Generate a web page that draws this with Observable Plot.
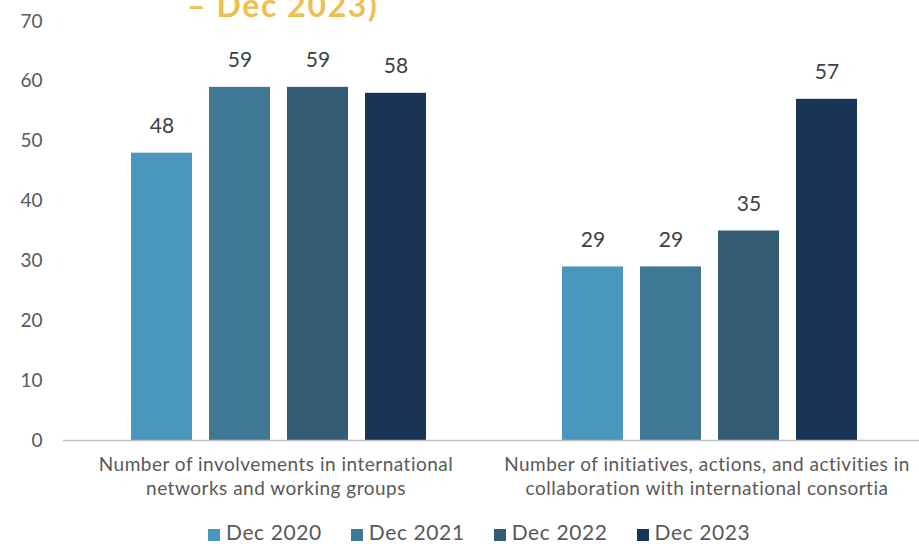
<!DOCTYPE html>
<html>
<head>
<meta charset="utf-8">
<script src="https://cdn.jsdelivr.net/npm/d3@7"></script>
<script src="https://cdn.jsdelivr.net/npm/@observablehq/plot@0.6"></script>
<style>
  html, body { margin: 0; padding: 0; background: #fff; width: 919px; height: 544px; overflow: hidden; }
  body { position: relative; font-family: Lato, "Noto Sans", sans-serif; }
  #title { position: absolute; left: 187px; top: -11px; z-index: 2; font-size: 32px; font-weight: 700; color: #EDC052; white-space: nowrap; letter-spacing: 1.6px; line-height: 1; }
  #chart { position: absolute; left: 0; top: 0; z-index: 1; }
  #legend { position: absolute; left: 208px; top: 519px; display: flex; gap: 29px; font-size: 21px; letter-spacing: 0.6px; color: #595959; }
  #legend .item { display: flex; align-items: flex-end; gap: 6px; }
  #legend .sw { width: 12px; height: 12px; margin-bottom: 3px; }
</style>
</head>
<body>
<div id="title">– Dec 2023)</div>
<div id="chart"></div>
<div id="legend"></div>
<script>
const categories = [
  "Number of involvements in international\nnetworks and working groups",
  "Number of initiatives, actions, and activities in\ncollaboration with international consortia"
];
const series = ["Dec 2020", "Dec 2021", "Dec 2022", "Dec 2023"];
const colors = ["#4A96BC", "#3F7895", "#355C75", "#1A3457"];
const valuesInvolvements = [48, 59, 59, 58];
const valuesInitiatives = [29, 29, 35, 57];
const yTicks = [0, 10, 20, 30, 40, 50, 60, 70];

const data = [];
series.forEach((s, i) => data.push({category: categories[0], series: s, value: valuesInvolvements[i]}));
series.forEach((s, i) => data.push({category: categories[1], series: s, value: valuesInitiatives[i]}));

const chart = Plot.plot({
  width: 925,
  height: 500,
  marginLeft: 62,
  marginRight: 0,
  marginTop: 21,
  marginBottom: 60,
  style: { fontFamily: "Lato, 'Noto Sans', sans-serif", color: "#404040", background: "white", maxWidth: "none" },
  fx: { domain: categories, padding: 0, label: null },
  x: { domain: series, paddingInner: 0.218, paddingOuter: 0.87, axis: null },
  y: { domain: [0, 70], ticks: yTicks, label: null },
  color: { domain: series, range: colors },
  marks: [
    Plot.axisY({ ticks: yTicks, tickSize: 0, tickPadding: 21, fontSize: 19, fill: "#595959", label: null }),
    Plot.axisFx({ tickSize: 0, tickPadding: 13, fontSize: 19, fill: "#595959", lineHeight: 1.27, label: null, anchor: "bottom", dx: -3 }),
    Plot.barY(data, { fx: "category", x: "series", y: "value", fill: "series" }),
    Plot.ruleY([0], { stroke: "#BFBFBF", strokeWidth: 1.5 }),
    Plot.text(data, { fx: "category", x: "series", y: "value", text: d => String(d.value), dy: -27, fontSize: 21, fill: "#404040" })
  ]
});
d3.select(chart).selectAll('g[aria-label="fx-axis tick label"] text').style("letter-spacing", "0.5px");
document.getElementById("chart").appendChild(chart);

const legend = document.getElementById("legend");
series.forEach((s, i) => {
  const item = document.createElement("div");
  item.className = "item";
  const sw = document.createElement("span");
  sw.className = "sw";
  sw.style.background = colors[i];
  const t = document.createElement("span");
  t.textContent = s;
  item.appendChild(sw);
  item.appendChild(t);
  legend.appendChild(item);
});
</script>
</body>
</html>
